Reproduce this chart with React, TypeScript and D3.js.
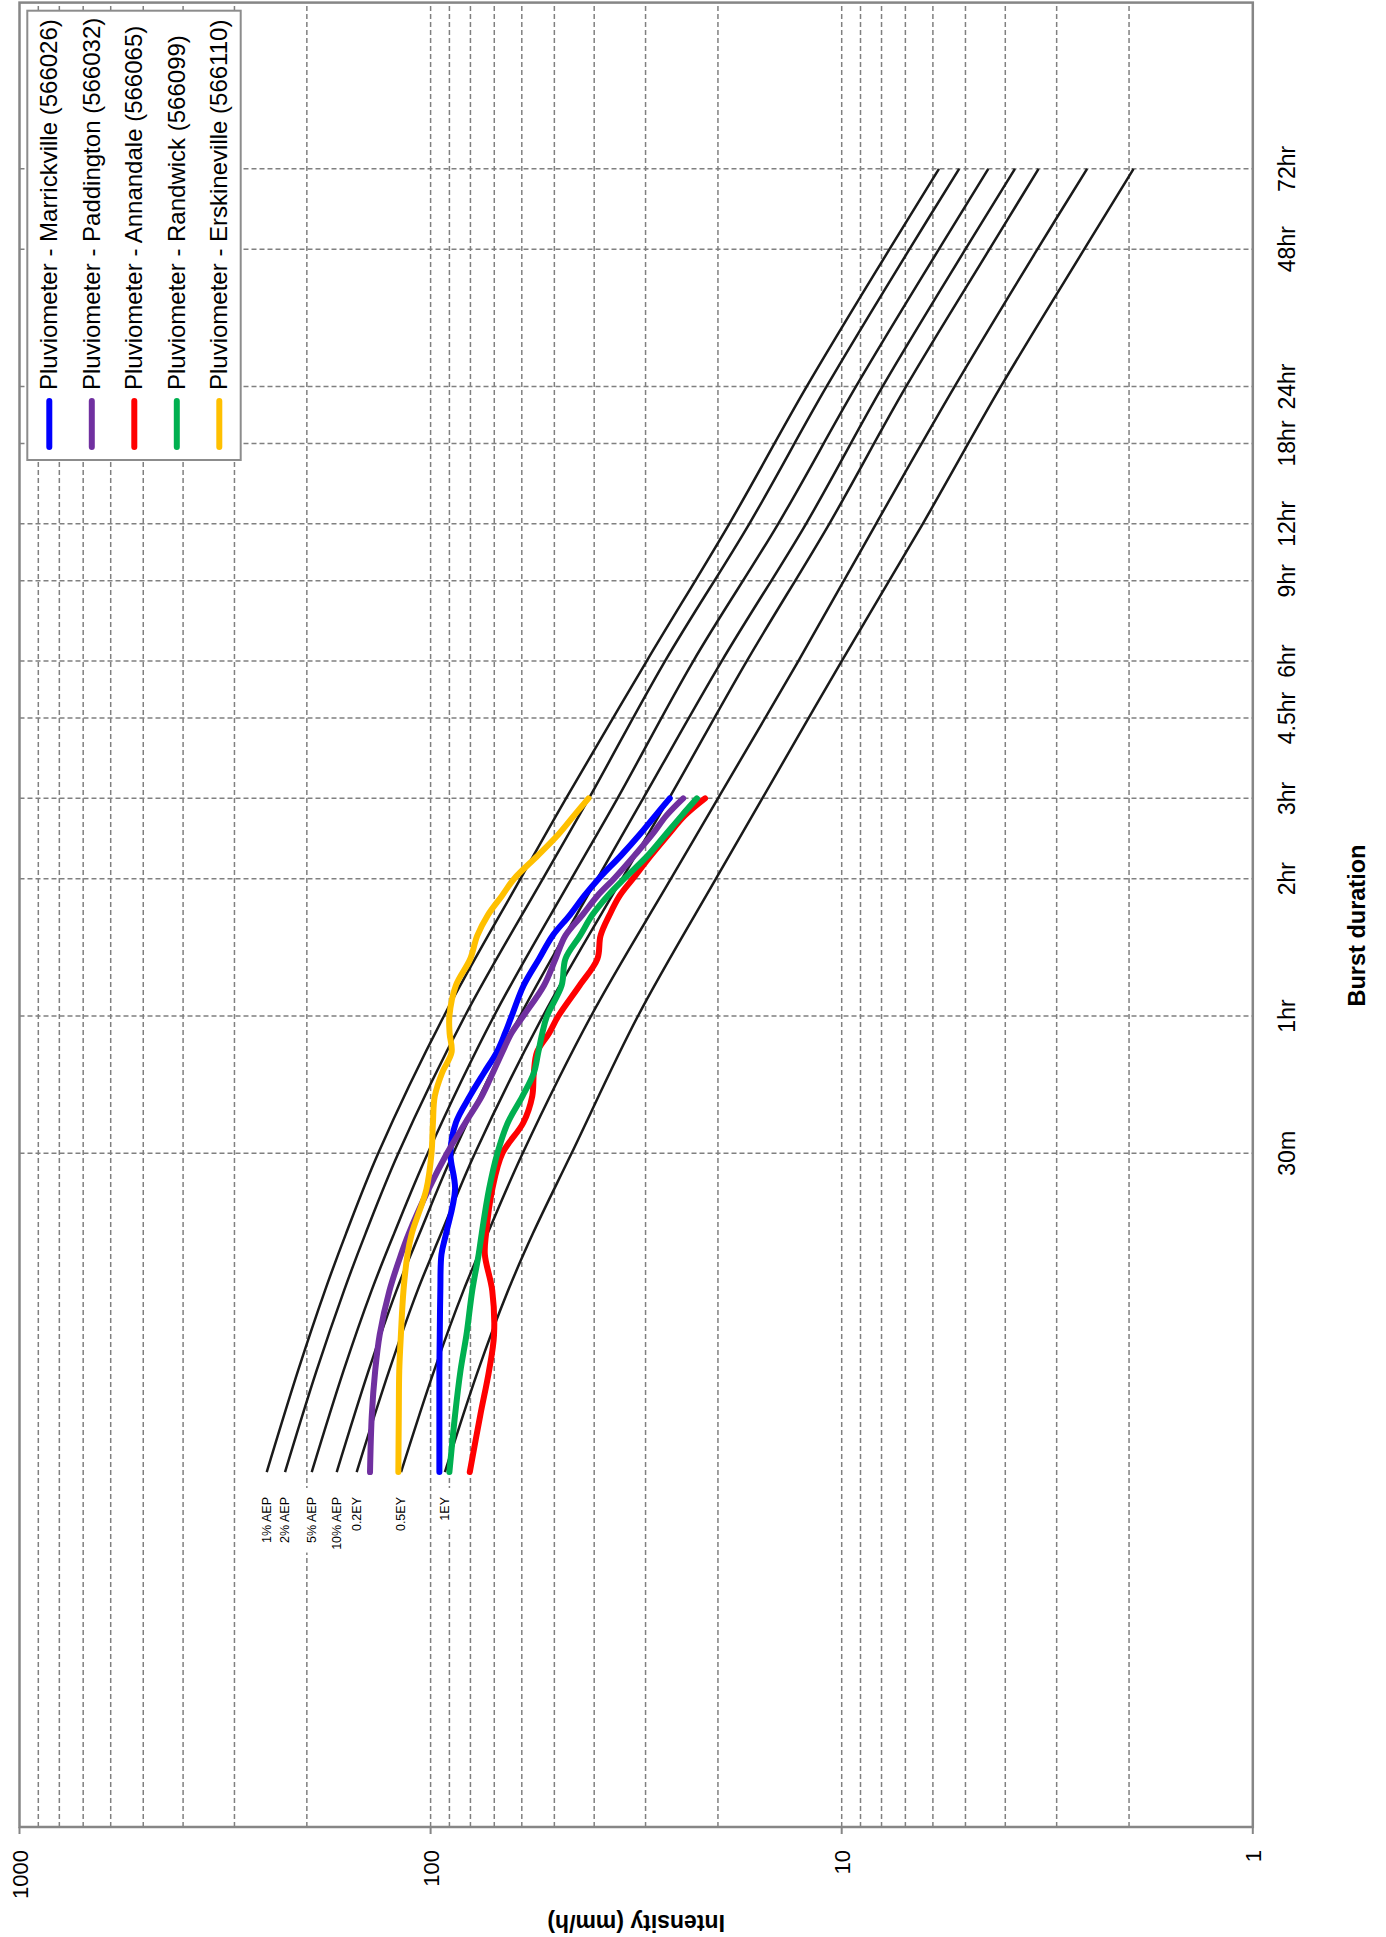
import React from 'react';
import * as d3 from 'd3';

const PAGE_W = 1386;
const PAGE_H = 1937;

// Axis ticks
const durationTicks = [30, 60, 120, 180, 270, 360, 540, 720, 1080, 1440, 2880, 4320];
const durationTickLabels = ['30m', '1hr', '2hr', '3hr', '4.5hr', '6hr', '9hr', '12hr', '18hr', '24hr', '48hr', '72hr'];
const intensityTicks = [1, 10, 100, 1000];
const intensityTickLabels = ['1', '10', '100', '1000'];

// IFD design curves (mm/h) at burst durations (min)
const ifdDurations = [6, 10, 15, 20, 30, 60, 120, 180, 360, 720, 1440, 2880, 4320];
const ifdLabels = ['1% AEP', '2% AEP', '5% AEP', '10% AEP', '0.2EY', '0.5EY', '1EY'];
const aep1 = [250.4, 210.2, 180.7, 160.6, 134.1, 92.8, 60.43, 46.83, 29.81, 18.77, 12.16, 7.65, 5.8];
const aep2 = [226.0, 189.5, 162.4, 144.0, 119.8, 82.5, 53.3, 41.2, 26.9, 16.78, 10.88, 6.84, 5.18];
const aep5 = [194.6, 162.9, 139.2, 122.7, 101.6, 70.1, 45.43, 35.1, 22.96, 14.27, 9.23, 5.8, 4.4];
const aep10 = [169.2, 141.6, 121.1, 106.4, 88.1, 60.6, 39.3, 30.4, 19.58, 12.21, 7.95, 5.0, 3.79];
const ey02 = [151.3, 126.2, 107.6, 94.3, 78.0, 53.3, 34.22, 26.3, 17.02, 10.72, 6.97, 4.37, 3.32];
const ey05 = [118.0, 98.1, 83.2, 72.7, 59.7, 40.7, 26.02, 20.0, 12.75, 8.25, 5.31, 3.34, 2.53];
const ey1 = [92.3, 76.7, 64.8, 56.4, 45.4, 31.3, 20.22, 15.6, 10.0, 6.35, 4.1, 2.57, 1.95];
const ifdSeries = [aep1, aep2, aep5, aep10, ey02, ey05, ey1];

// Pluviometer observed bursts (mm/h)
const pluvioDurations = [6, 8, 10, 12, 15, 18, 20, 25, 30, 35, 40, 45, 50, 55, 60, 70, 80, 90, 100, 110, 120, 135, 150, 165, 180];
const marrickville = [95.2, 95.2, 95.2, 95.0, 94.7, 94.1, 91.7, 87.2, 89.5, 86.8, 80.3, 74.2, 69.0, 65.9, 63.5, 59.4, 54.5, 50.5, 45.8, 42.3, 39.0, 34.4, 31.0, 28.4, 26.2];
const paddington = [140.4, 139.0, 136.4, 133.0, 125.9, 118.0, 113.0, 101.2, 91.2, 82.3, 75.1, 70.6, 66.9, 63.6, 59.5, 53.0, 49.7, 47.0, 42.7, 39.3, 35.8, 31.9, 28.9, 26.7, 24.3];
const annandale = [80.3, 75.7, 72.1, 70.1, 70.8, 73.8, 73.3, 70.8, 66.9, 59.5, 56.6, 56.1, 55.1, 51.5, 48.9, 43.4, 39.3, 38.6, 36.7, 34.7, 32.2, 29.1, 26.4, 24.1, 21.5];
const randwick = [90.0, 87.2, 84.6, 81.8, 79.2, 76.4, 75.1, 72.1, 68.8, 64.9, 59.8, 56.1, 54.7, 53.5, 52.1, 48.0, 47.0, 43.3, 40.4, 37.1, 33.8, 29.6, 26.8, 24.5, 22.5];
const erskineville = [119.8, 119.5, 119.2, 118.1, 116.4, 113.8, 111.1, 102.4, 99.5, 98.7, 97.7, 93.8, 88.9, 89.9, 90.0, 86.8, 80.1, 77.0, 72.5, 67.1, 62.6, 54.8, 48.9, 44.8, 41.3];

const pluvioNames = [
  'Pluviometer - Marrickville (566026)',
  'Pluviometer - Paddington (566032)',
  'Pluviometer - Annandale (566065)',
  'Pluviometer - Randwick (566099)',
  'Pluviometer - Erskineville (566110)',
];
const pluvioColors = ['#0000FF', '#7030A0', '#FF0000', '#00B050', '#FFC000'];
const pluvioSeries = [marrickville, paddington, annandale, randwick, erskineville];

const FONT = '"Liberation Sans", Arial, Helvetica, sans-serif';

function measure(text: string, size: number): number {
  try {
    const c = document.createElement('canvas');
    const ctx = c.getContext('2d');
    if (ctx) {
      ctx.font = `${size}px "Liberation Sans", Arial, sans-serif`;
      return ctx.measureText(text).width;
    }
  } catch (e) {}
  return text.length * size * 0.55;
}

export default function App() {
  // Chart is drawn in its own (landscape) frame, then rotated -90deg onto the portrait page.
  const x = d3.scaleLog().domain([1, 10000]).range([110, 1934.4]);
  const y = d3.scaleLog().domain([1, 1000]).range([1252.8, 19.5]);
  const [x0, x1] = x.range();
  const [yb, yt] = y.range();

  const intensityGrid: number[] = [];
  [1, 10, 100].forEach((dec) => {
    for (let k = 2; k <= 9; k++) intensityGrid.push(k * dec);
    if (dec < 100) intensityGrid.push(dec * 10);
  });

  const line = d3
    .line<[number, number]>()
    .x((d) => x(d[0]))
    .y((d) => y(d[1]))
    .curve(d3.curveCatmullRom.alpha(0.5));

  const gridStyle = { stroke: '#808080', strokeWidth: 1.5, strokeDasharray: '5,3', fill: 'none' };

  const legendX = 1477;
  const legendY = 27.3;
  const legendW = 449.3;
  const legendH = 213.4;
  const legendRowY = (i: number) => 49.3 + i * 42.5;

  const labelRight = 440;
  const labelSize = 12.5;

  return (
    <svg
      width={PAGE_W}
      height={PAGE_H}
      viewBox={`0 0 ${PAGE_W} ${PAGE_H}`}
      style={{ position: 'absolute', left: 0, top: 0, background: '#fff' }}
      fontFamily={FONT}
    >
      <rect x={0} y={0} width={PAGE_W} height={PAGE_H} fill="#fff" />
      <g transform={`translate(0,${PAGE_H}) rotate(-90)`}>
        {/* gridlines */}
        {intensityGrid.map((v) => (
          <line key={'ig' + v} x1={x0} x2={x1} y1={y(v)} y2={y(v)} {...gridStyle} />
        ))}
        {durationTicks.map((d) => (
          <line key={'dg' + d} x1={x(d)} x2={x(d)} y1={yt} y2={yb} {...gridStyle} />
        ))}

        {/* curve labels with white boxes */}
        {ifdLabels.map((lab, i) => {
          const cy = y(ifdSeries[i][0]);
          const w = measure(lab, labelSize);
          return (
            <g key={'lab' + i}>
              <rect x={labelRight - w - 9} y={cy - 8} width={w + 18} height={16} fill="#fff" />
              <text
                x={labelRight}
                y={cy}
                textAnchor="end"
                dominantBaseline="central"
                fontSize={labelSize}
                fill="#000"
              >
                {lab}
              </text>
            </g>
          );
        })}

        {/* IFD curves */}
        {ifdSeries.map((s, i) => (
          <path
            key={'ifd' + i}
            d={line(ifdDurations.map((d, j) => [d, s[j]] as [number, number])) || ''}
            fill="none"
            stroke="#1a1a1a"
            strokeWidth={2.5}
          />
        ))}

        {/* pluviometer curves */}
        {pluvioSeries.map((s, i) => (
          <path
            key={'pl' + i}
            d={line(pluvioDurations.map((d, j) => [d, s[j]] as [number, number])) || ''}
            fill="none"
            stroke={pluvioColors[i]}
            strokeWidth={6}
            strokeLinecap="round"
            strokeLinejoin="round"
          />
        ))}

        {/* plot border */}
        <rect x={x0} y={yt} width={x1 - x0} height={yb - yt} fill="none" stroke="#868686" strokeWidth={2.5} />

        {/* intensity decade ticks */}
        {intensityTicks.map((v) => (
          <line key={'it' + v} x1={x0 - 7} x2={x0} y1={y(v)} y2={y(v)} stroke="#868686" strokeWidth={2} />
        ))}

        {/* intensity tick labels */}
        {intensityTicks.map((v, i) => (
          <text key={'itl' + v} x={87} y={y(v) + 8} textAnchor="end" fontSize={22} fill="#000">
            {intensityTickLabels[i]}
          </text>
        ))}

        {/* duration tick labels */}
        {durationTicks.map((d, i) => (
          <text key={'dtl' + d} x={x(d)} y={1295} textAnchor="middle" fontSize={23} fill="#000">
            {durationTickLabels[i]}
          </text>
        ))}

        {/* axis titles */}
        <text x={1011.5} y={1365} textAnchor="middle" fontSize={23.5} fontWeight="bold" fill="#000">
          Burst duration
        </text>
        <text
          transform={`translate(22,${(yt + yb) / 2}) rotate(-90)`}
          textAnchor="middle"
          fontSize={23}
          fontWeight="bold"
          fill="#000"
        >
          Intensity (mm/h)
        </text>

        {/* legend */}
        <rect x={legendX} y={legendY} width={legendW} height={legendH} fill="#fff" stroke="#8c8c8c" strokeWidth={2} />
        {pluvioNames.map((name, i) => (
          <g key={'lg' + i}>
            <line
              x1={1490}
              x2={1536}
              y1={legendRowY(i)}
              y2={legendRowY(i)}
              stroke={pluvioColors[i]}
              strokeWidth={6}
              strokeLinecap="round"
            />
            <text x={1547} y={legendRowY(i) + 8} fontSize={24} fill="#000">
              {name}
            </text>
          </g>
        ))}
      </g>
    </svg>
  );
}
